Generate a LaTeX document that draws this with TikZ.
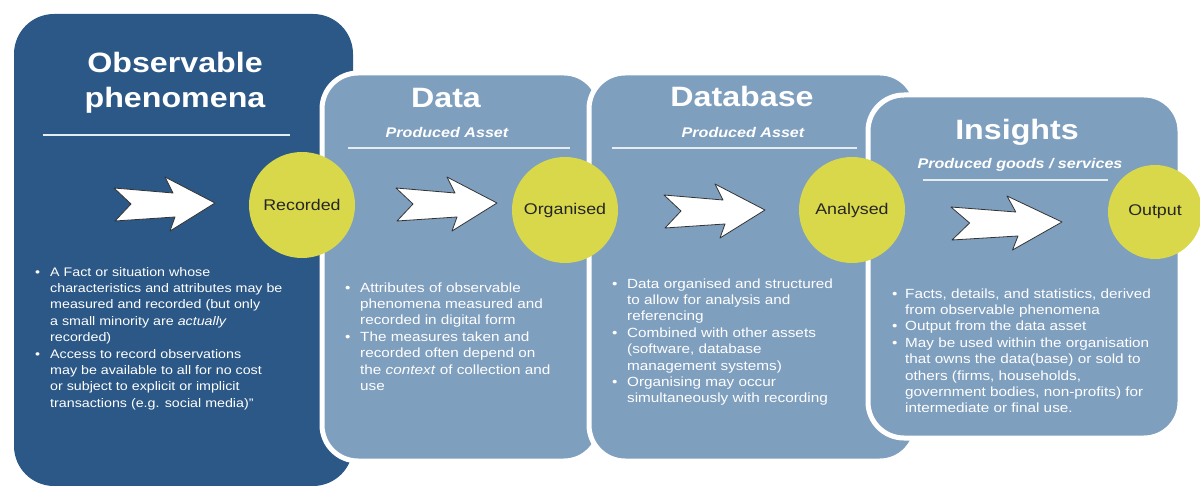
\documentclass[tikz,border=0pt]{standalone}
\usepackage{fontspec}
\setmainfont{Liberation Sans}[FakeStretch=1.15]
\usetikzlibrary{positioning}

\definecolor{phenblue}{HTML}{2B5886}
\definecolor{assetblue}{HTML}{7F9FBF}
\definecolor{stageyellow}{HTML}{D9D84A}

\newcommand{\bodyfont}{\fontsize{13.3}{16.4}\selectfont}
\newcommand{\smallbodyfont}{\fontsize{12.4}{16.4}\selectfont}

\tikzset{pics/blockarrow/.style={code={
  \draw[chevron] (-101,-15) -- (-42,-10) -- (-50,-26) -- (0,0) -- (-45,28)
    -- (-40,14) -- (-100,18) -- (-84,1) -- cycle;}}}

\begin{document}
\begin{tikzpicture}[x=1pt,y=-1pt,
    panel/.style={fill=assetblue,draw=white,line width=5pt,rounded corners=36pt},
    stage/.style={circle,fill=stageyellow,minimum size=106pt,inner sep=0pt,
      font=\fontsize{15.5}{18}\selectfont,text=black!85},
    heading/.style={text=white,font=\fontsize{28}{35}\selectfont\bfseries,align=center,inner sep=0pt},
    subhead/.style={text=white,font=\fontsize{14}{16}\selectfont\bfseries\itshape,inner sep=0pt},
    bullets/.style={text=white,anchor=north west,inner sep=0pt,font=\bodyfont},
    titlerule/.style={draw=white!80!assetblue,line width=1.5pt},
    chevron/.style={fill=white,draw=black!80,line width=0.8pt,line join=round}]
  \useasboundingbox (0,0) rectangle (1200,486);

  % panels
  \fill[phenblue,rounded corners=40pt] (14,14) rectangle (353,486);
  \draw[panel] (322,73) rectangle (600,461);
  \draw[panel] (589,73) rectangle (916,461);
  \draw[panel] (868,95) rectangle (1180,438);

  % rules under the headings
  \draw[titlerule] (43,135) -- (290,135);
  \draw[titlerule] (348,148) -- (570,148);
  \draw[titlerule] (612,148) -- (857,148);
  \draw[titlerule] (923,180) -- (1108,180);

  % arrows
  \pic at (215,203) {blockarrow};
  \pic at (497,203) {blockarrow};
  \pic at (765,210) {blockarrow};
  \pic[xscale=1.1] at (1062,222) {blockarrow};

  % stages
  \node[stage] (rec) at (302,205) {Recorded};
  \node[stage] (org) at (565,210) {Organised};
  \node[stage] (ana) at (852,210) {Analysed};
  \node[stage,minimum size=94pt] (out) at (1155,212) {Output};

  % headings
  \node[heading,anchor=north] (obstitle) at (175,52.5) {Observable\\phenomena};
  \node[heading,anchor=base] (datatitle) at (446,108) {Data};
  \node[subhead,anchor=base] (datasub) at (447,138) {Produced Asset};
  \node[heading,anchor=base] (dbtitle) at (742,107) {Database};
  \node[subhead,anchor=base] (dbsub) at (743,138) {Produced Asset};
  \node[heading,anchor=base] (institle) at (1017,140) {Insights};
  \node[subhead,anchor=base] (inssub) at (1020,169) {Produced goods / services};

  % bullet texts
  \node[bullets,font=\smallbodyfont] (obstext) at (35,264.5) {%
    \begin{tabular}{@{}p{15pt}@{}l@{}}
      \textbullet & A Fact or situation whose\\
      & characteristics and attributes may be\\
      & measured and recorded (but only\\
      & a small minority are \textit{actually}\\
      & recorded)\\
      \textbullet & Access to record observations\\
      & may be available to all for no cost\\
      & or subject to explicit or implicit\\
      & transactions (e.g. social media)”
    \end{tabular}};
  \node[bullets] (datatext) at (345,280.5) {%
    \begin{tabular}{@{}p{15pt}@{}l@{}}
      \textbullet & Attributes of observable\\
      & phenomena measured and\\
      & recorded in digital form\\
      \textbullet & The measures taken and\\
      & recorded often depend on\\
      & the \textit{context} of collection and\\
      & use
    \end{tabular}};
  \node[bullets] (dbtext) at (612,276.5) {%
    \begin{tabular}{@{}p{15pt}@{}l@{}}
      \textbullet & Data organised and structured\\
      & to allow for analysis and\\
      & referencing\\
      \textbullet & Combined with other assets\\
      & (software, database\\
      & management systems)\\
      \textbullet & Organising may occur\\
      & simultaneously with recording
    \end{tabular}};
  \node[bullets] (instext) at (892,286.5) {%
    \begin{tabular}{@{}p{13pt}@{}l@{}}
      \textbullet & Facts, details, and statistics, derived\\
      & from observable phenomena\\
      \textbullet & Output from the data asset\\
      \textbullet & May be used within the organisation\\
      & that owns the data(base) or sold to\\
      & others (firms, households,\\
      & government bodies, non-profits) for\\
      & intermediate or final use.
    \end{tabular}};
\end{tikzpicture}
\end{document}
